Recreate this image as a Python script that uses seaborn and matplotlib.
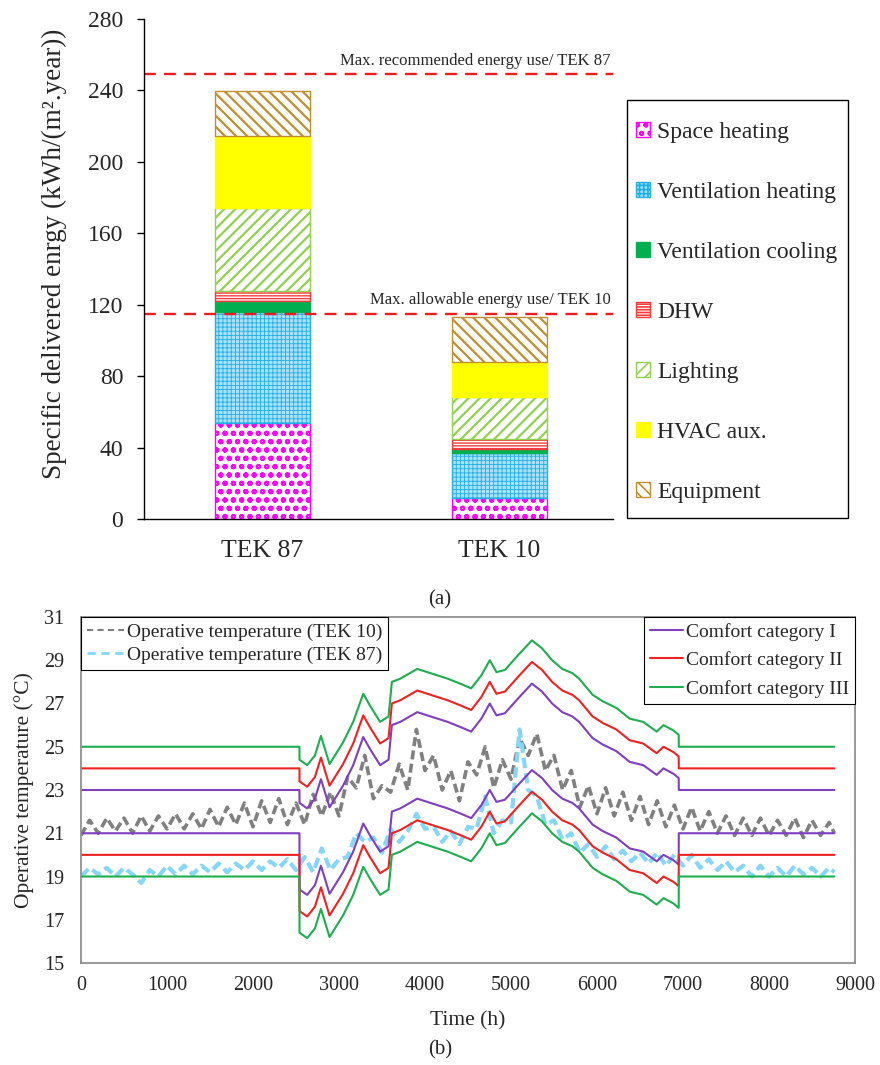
import numpy as np
import matplotlib
matplotlib.use("Agg")
import matplotlib.pyplot as plt
from matplotlib.patches import Patch, Rectangle
from matplotlib.lines import Line2D
import seaborn as sns

# 1 THEME
sns.set_style("white")
plt.rcParams["font.family"] = ["Liberation Serif", "DejaVu Serif"]
plt.rcParams["hatch.linewidth"] = 1.2

# 2 DATA - panel (a): delivered energy per component (kWh/(m2.year))
cases = ["TEK 87", "TEK 10"]
components = ["Space heating", "Ventilation heating", "Ventilation cooling",
              "DHW", "Lighting", "HVAC aux.", "Equipment"]
space_heating = [54.0, 12.0]
ventilation_heating = [62.0, 24.8]
ventilation_cooling = [6.0, 2.2]
dhw = [5.5, 6.0]
lighting = [46.7, 23.2]
hvac_aux = [40.5, 19.5]
equipment = [25.1, 25.3]
max_recommended_tek87 = 249
max_allowable_tek10 = 115

# DATA - panel (b): operative temperatures, sampled every 100 h
op_hours = list(range(0, 8800, 100)) + [8760]
op_tek10 = [20.9, 21.6, 21.0, 21.7, 21.1, 21.7, 21.0, 21.8, 21.1, 21.8,
            21.2, 21.9, 21.2, 21.9, 21.2, 22.1, 21.3, 22.2, 21.4, 22.4,
            21.3, 22.5, 21.5, 22.6, 21.4, 22.4, 21.4, 22.8, 21.8, 22.9,
            21.8, 23.6, 23.1, 24.6, 22.6, 23.2, 22.9, 24.2, 23.0, 25.8,
            23.9, 24.6, 23.0, 23.9, 22.5, 24.3, 23.7, 25.0, 23.1, 24.4,
            23.5, 25.4, 24.6, 25.6, 23.9, 24.6, 23.0, 23.9, 22.2, 23.2,
            21.9, 23.1, 21.8, 22.9, 21.6, 22.7, 21.4, 22.5, 21.3, 22.3,
            21.2, 22.2, 21.1, 22.0, 21.0, 21.8, 20.9, 21.7, 20.9, 21.7,
            20.9, 21.6, 20.9, 21.7, 20.8, 21.6, 20.9, 21.5, 21.0]
op_tek87 = [19.0, 19.4, 19.1, 19.4, 19.0, 19.4, 19.1, 18.7, 19.3, 19.0,
            19.5, 19.1, 19.5, 19.1, 19.5, 19.2, 19.6, 19.2, 19.6, 19.3,
            19.7, 19.3, 19.7, 19.4, 19.8, 19.3, 19.9, 19.2, 20.3, 19.3,
            19.8, 19.9, 21.0, 20.6, 20.8, 20.1, 21.2, 20.6, 21.1, 21.9,
            21.2, 21.3, 20.6, 21.1, 20.5, 21.3, 21.2, 22.7, 21.0, 21.6,
            21.5, 25.8, 23.0, 22.7, 21.4, 21.6, 20.7, 21.0, 20.1, 20.5,
            19.9, 20.4, 19.8, 20.2, 19.7, 20.1, 19.6, 20.1, 19.5, 20.0,
            19.5, 20.0, 19.4, 19.8, 19.3, 19.7, 19.2, 19.5, 19.0, 19.5,
            19.0, 19.4, 19.0, 19.5, 19.1, 19.4, 19.0, 19.4, 19.2]

# comfort band centre: heating season fixed, cooling season adaptive
winter_center = 22.0
summer_hours = [2541, 2630, 2720, 2790, 2890, 3047, 3165, 3282, 3360, 3478,
                3576, 3615, 3713, 3910, 4027, 4145, 4263, 4420, 4537, 4655,
                4753, 4831, 4929, 5086, 5243, 5361, 5478, 5596, 5714, 5792,
                5949, 6067, 6224, 6380, 6537, 6694, 6773, 6890, 6950]
summer_center = [20.4, 20.15, 20.6, 21.5, 20.2, 21.2, 22.15, 23.45, 22.9, 22.15,
                 22.4, 24.0, 24.15, 24.6, 24.45, 24.3, 24.15, 23.9, 23.7, 24.3,
                 25.0, 24.45, 24.55, 25.25, 25.92, 25.55, 25.0, 24.6, 24.4, 24.15,
                 23.4, 23.1, 22.8, 22.3, 22.15, 21.7, 22.0, 21.75, 21.55]
categories = ["Comfort category I", "Comfort category II", "Comfort category III"]
winter_halfwidth = [1, 2, 3]
summer_halfwidth = [2, 3, 4]

# 3 STYLES
bar_styles = {
    "Space heating": dict(fc="white", ec="#FF00FF", hatch="oo", hlw=1.4),
    "Ventilation heating": dict(fc="#A9E2F6", ec="#22AEE6", hatch="++++", hlw=0.6),
    "Ventilation cooling": dict(fc="#00B050", ec="#00B050", hatch=None, hlw=1.0),
    "DHW": dict(fc="white", ec="#F03C3C", hatch="------", hlw=1.0),
    "Lighting": dict(fc="white", ec="#92D050", hatch="///", hlw=1.6),
    "HVAC aux.": dict(fc="#FFFF00", ec="#FFFF00", hatch=None, hlw=1.0),
    "Equipment": dict(fc="white", ec="#BF8F30", hatch="\\\\\\", hlw=1.6),
}
cat_colors = ["#7F3FBF", "#EE2222", "#1EAE50"]

fig = plt.figure(figsize=(8.8, 10.65), dpi=100)
W, H = 880, 1065
ax1 = fig.add_axes([144 / W, 1 - 519 / H, (613 - 144) / W, (519 - 19) / H])
ax2 = fig.add_axes([81 / W, 1 - 963 / H, (855 - 81) / W, (963 - 617) / H])

# 4 PANEL (a) - stacked bars
series = [space_heating, ventilation_heating, ventilation_cooling, dhw,
          lighting, hvac_aux, equipment]
bottom = np.zeros(len(cases))
for name, vals in zip(components, series):
    st = bar_styles[name]
    sns.barplot(x=cases, y=vals, order=cases, ax=ax1, bottom=bottom.copy(),
                width=0.40, errorbar=None, color=st["fc"], saturation=1,
                edgecolor=st["ec"], hatch=st["hatch"], linewidth=1.0)
    for p in ax1.containers[-1]:
        if hasattr(p, "set_hatch_linewidth"):
            p.set_hatch_linewidth(st["hlw"])
    bottom += np.array(vals)

ax1.axhline(max_recommended_tek87, color="#EE1C1C", ls=(0, (5, 3.5)), lw=1.7)
ax1.axhline(max_allowable_tek10, color="#EE1C1C", ls=(0, (5, 3.5)), lw=1.7)
ax1.text(1.47, max_recommended_tek87 + 3, "Max. recommended energy use/ TEK 87",
         ha="right", va="bottom", fontsize=12)
ax1.text(1.47, max_allowable_tek10 + 3, "Max. allowable energy use/ TEK 10",
         ha="right", va="bottom", fontsize=12)

ax1.set_xlim(-0.50, 1.48)
ax1.set_ylim(0, 280)
ax1.set_yticks(range(0, 281, 40))
ax1.set_xlabel("")
ax1.set_ylabel("Specific delivered enrgy (kWh/(m².year))", fontsize=19.5)
ax1.yaxis.set_label_coords(-0.165, 0.53)
ax1.tick_params(axis="x", length=0, labelsize=18.5, pad=15)
ax1.tick_params(axis="y", direction="out", length=5, width=1, labelsize=17,
                left=True, color="black", pad=10)
sns.despine(ax=ax1)
for s in ["left", "bottom"]:
    ax1.spines[s].set_color("black")
    ax1.spines[s].set_linewidth(1.0)

handles_a = []
for name in components:
    st = bar_styles[name]
    handles_a.append(Patch(facecolor=st["fc"], edgecolor=st["ec"],
                           hatch=st["hatch"], linewidth=1.0))
fig.add_artist(Rectangle((627 / W, 1 - 518 / H), (848 - 627) / W, (518 - 100) / H,
                         transform=fig.transFigure, fill=False,
                         edgecolor="black", lw=1.0))
leg_a = fig.legend(handles_a, components, loc="upper left",
                   bbox_to_anchor=(636 / W, 1 - 122 / H), fontsize=17,
                   frameon=False, borderpad=0, labelspacing=1.65,
                   handlelength=0.6, handleheight=0.6, handletextpad=0.3,
                   borderaxespad=0)

# 5 PANEL (b) - temperatures
sns.lineplot(x=op_hours, y=op_tek10, ax=ax2, estimator=None, sort=False,
             color="#808080", lw=2.6, ls=(0, (2.5, 1.2)), legend=False)
sns.lineplot(x=op_hours, y=op_tek87, ax=ax2, estimator=None, sort=False,
             color="#86D7F7", lw=3.0, ls=(0, (2.5, 1.2)), legend=False)

band_hours = [0, 2540] + summer_hours + [6951, 8760]
for k, col in enumerate(cat_colors):
    upper = ([winter_center + winter_halfwidth[k]] * 2
             + [c + summer_halfwidth[k] for c in summer_center]
             + [winter_center + winter_halfwidth[k]] * 2)
    lower = ([winter_center - winter_halfwidth[k]] * 2
             + [c - summer_halfwidth[k] for c in summer_center]
             + [winter_center - winter_halfwidth[k]] * 2)
    for ys in (upper, lower):
        sns.lineplot(x=band_hours, y=ys, ax=ax2, estimator=None, sort=False,
                     color=col, lw=1.5, legend=False)

ax2.set_xlim(0, 9000)
ax2.set_ylim(15, 31)
ax2.set_xticks(range(0, 9001, 1000))
ax2.set_yticks(range(15, 32, 2))
ax2.tick_params(axis="both", length=0, labelsize=14.5)
ax2.tick_params(axis="x", pad=9)
ax2.tick_params(axis="y", pad=12)
ax2.set_xlabel("Time (h)", fontsize=15.5, labelpad=12)
ax2.set_ylabel("Operative temperature (°C)", fontsize=15.5, labelpad=7)
for s in ax2.spines.values():
    s.set_color("#888888")
    s.set_linewidth(1.2)

h_op = [Line2D([], [], color="#808080", lw=1.5, ls=(0, (3, 2))),
        Line2D([], [], color="#86D7F7", lw=2.0, ls=(0, (3, 2)))]
leg_b1 = ax2.legend(h_op, ["Operative temperature (TEK 10)",
                           "Operative temperature (TEK 87)"],
                    loc="upper left", bbox_to_anchor=(0, 1), fontsize=14,
                    frameon=True, fancybox=False, edgecolor="black",
                    framealpha=1, borderpad=0.3, labelspacing=0.3,
                    handlelength=1.9, handletextpad=0.15, borderaxespad=0)
leg_b1.get_frame().set_linewidth(0.8)
ax2.add_artist(leg_b1)
h_cat = [Line2D([], [], color=c, lw=1.5) for c in cat_colors]
leg_b2 = ax2.legend(h_cat, categories, loc="upper right",
                    bbox_to_anchor=(1, 1), fontsize=14, frameon=True,
                    fancybox=False, edgecolor="black", framealpha=1,
                    borderpad=0.3, labelspacing=0.55, handlelength=1.7,
                    handletextpad=0.15, borderaxespad=0)
leg_b2.get_frame().set_linewidth(0.8)

fig.text(440 / W, 1 - 600 / H, "(a)", ha="center", va="center", fontsize=15)
fig.text(440 / W, 1 - 1050 / H, "(b)", ha="center", va="center", fontsize=15)

fig.savefig("out.png", dpi=100)
